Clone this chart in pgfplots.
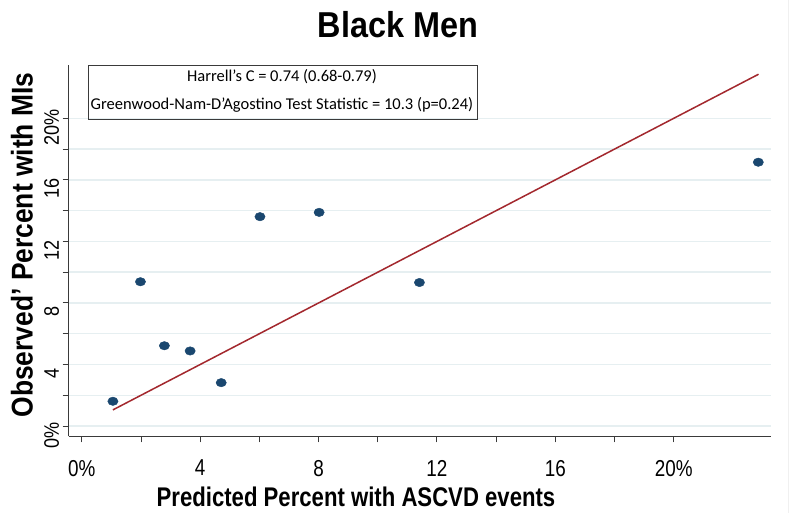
\documentclass[border=0pt]{standalone}
\usepackage{fontspec}
\setmainfont{Liberation Sans}
\newfontfamily\narrowfont[FakeStretch=0.82]{Liberation Sans}
\newfontfamily\ylabfont[FakeStretch=0.88]{Liberation Sans}
\newfontfamily\ytickfont[FakeStretch=0.86]{Liberation Sans}
\newfontfamily\titlefont[FakeStretch=0.9]{Liberation Sans}
\newfontfamily\boxfont{Carlito}
\usepackage{pgfplots}
\pgfplotsset{compat=1.18}
\definecolor{stnavy}{HTML}{1A476F}
\definecolor{stred}{HTML}{A3282E}
\definecolor{gridc}{HTML}{E6EFF1}
\definecolor{axc}{HTML}{3A3A3A}
\begin{document}
\begin{tikzpicture}[x=1pt,y=1pt]
\useasboundingbox (0,0) rectangle (800,513);
\fill[white] (0,0) rectangle (800,513);
\draw[gray!12, line width=1pt] (788,0) -- (788,513);
\begin{axis}[
  at={(68.5pt,76.5pt)}, anchor=south west,
  scale only axis, width=702.5pt, height=371.5pt,
  xmin=-0.45, xmax=23.29, ymin=-0.68, ymax=23.47,
  axis x line*=bottom, axis y line*=left,
  axis line style={axc, line width=1.1pt, -},
  xtick={0,4,...,20}, xticklabels={0\%,4,8,12,16,20\%},
  ytick={0,4,...,20}, yticklabels={0\%,4,8,12,16,20\%},
  minor xtick={2,6,10,14,18}, minor ytick={2,6,10,14,18},
  tick align=outside, major tick length=6pt, minor tick length=6pt,
  every tick/.style={axc, line width=1pt},
  ymajorgrids, yminorgrids,
  major grid style={gridc, line width=1.5pt},
  minor grid style={gridc, line width=1.5pt},
  /pgf/number format/assume math mode=true,
  xticklabel style={font=\narrowfont\fontsize{23}{23}\selectfont, anchor=north, yshift=-14pt},
  yticklabel style={font=\ytickfont\fontsize{21}{21}\selectfont, rotate=90, anchor=south, xshift=-9pt},
  clip=false,
]
\addplot[stred, line width=1.5pt] coordinates {(1.05,1.05) (22.87,22.87)};
\addplot[only marks, mark=*, mark size=4.6pt, mark options={draw=stnavy, fill=stnavy, xscale=1.12, yscale=0.92}] coordinates {
(1.05,1.61) (1.98,9.38) (2.79,5.22) (3.66,4.88) (4.71,2.82)
(6.02,13.61) (8.02,13.89) (11.41,9.33) (22.86,17.15)
};
\end{axis}
\draw[axc, line width=0.8pt] (88,448) rectangle (477,393.5);
\node[font=\boxfont\fontsize{16.5}{16.5}\selectfont] at (282,436) {Harrell’s C = 0.74 (0.68-0.79)};
\node[font=\boxfont\fontsize{16.5}{16.5}\selectfont] at (282,408) {Greenwood-Nam-D’Agostino Test Statistic = 10.3 (p=0.24)};
\node[font=\titlefont\bfseries\fontsize{36}{36}\selectfont] at (398,488) {Black Men};
\node[font=\narrowfont\bfseries\fontsize{27}{27}\selectfont] at (356,16) {Predicted Percent with ASCVD events};
\node[font=\ylabfont\bfseries\fontsize{30}{30}\selectfont, rotate=90] at (22,268) {Observed’ Percent with MIs};
\end{tikzpicture}
\end{document}
